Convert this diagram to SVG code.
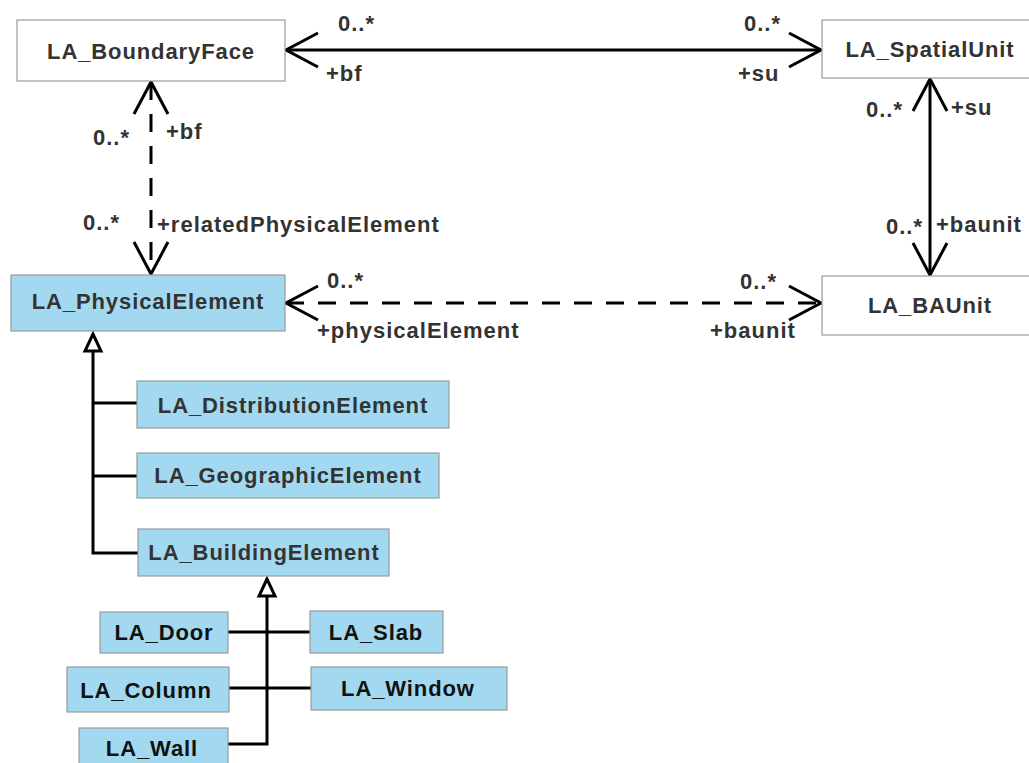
<svg xmlns="http://www.w3.org/2000/svg" width="1029" height="763" viewBox="0 0 1029 763">
<style>
.box{stroke:#9a9a9a;stroke-width:1.2}
.w{fill:#ffffff}
.b{fill:#a3d9f0}
.t{font-family:"Liberation Sans",Arial,sans-serif;font-weight:bold;font-size:22px;fill:#333333;text-anchor:middle;letter-spacing:0.9px}
.tk{fill:#111111}
.l{font-family:"Liberation Sans",Arial,sans-serif;font-weight:bold;font-size:22px;fill:#333333;letter-spacing:1px}
.c{fill:none;stroke:#000;stroke-width:3}
.d{stroke-dasharray:18 14}
</style>
<defs>
<marker id="open" markerUnits="userSpaceOnUse" viewBox="-36 -20 40 40" refX="0" refY="0" markerWidth="40" markerHeight="40" orient="auto-start-reverse">
<path d="M-32,-17 L0,0 L-32,17" fill="none" stroke="#000" stroke-width="3" stroke-dasharray="none"/>
</marker>
<marker id="gen" markerUnits="userSpaceOnUse" viewBox="-22 -12 26 24" refX="0" refY="0" markerWidth="26" markerHeight="24" orient="auto">
<path d="M0,0 L-17,-8 L-17,8 Z" fill="#fff" stroke="#000" stroke-width="3" stroke-linejoin="miter"/>
</marker>
</defs>
<rect width="1029" height="763" fill="#fff"/>
<g id="connectors">
<line class="c" x1="286" y1="50" x2="821" y2="50" marker-start="url(#open)" marker-end="url(#open)"/>
<line class="c d" x1="151" y1="82" x2="151" y2="274" marker-start="url(#open)" marker-end="url(#open)"/>
<line class="c d" x1="286" y1="303" x2="821" y2="303" marker-start="url(#open)" marker-end="url(#open)"/>
<line class="c" x1="930" y1="79" x2="930" y2="275" marker-start="url(#open)" marker-end="url(#open)"/>
<path class="c" d="M137,403 H93 V476 H137 M93,476 V553 H138 M93,553 V334" marker-end="url(#gen)"/>
<path class="c" d="M228,632 H310 M229,688 H311 M228,744 H267 V579" marker-end="url(#gen)"/>
<text class="l" x="338" y="31">0..*</text>
<text class="l" x="326" y="81">+bf</text>
<text class="l" x="744" y="31">0..*</text>
<text class="l" x="738" y="81">+su</text>
<text class="l" x="93" y="145">0..*</text>
<text class="l" x="166" y="139">+bf</text>
<text class="l" x="83" y="230">0..*</text>
<text class="l" x="157" y="232">+relatedPhysicalElement</text>
<text class="l" x="327" y="288">0..*</text>
<text class="l" x="317" y="338">+physicalElement</text>
<text class="l" x="740" y="289">0..*</text>
<text class="l" x="710" y="338">+baunit</text>
<text class="l" x="866" y="117">0..*</text>
<text class="l" x="951" y="115">+su</text>
<text class="l" x="886" y="234">0..*</text>
<text class="l" x="936" y="232">+baunit</text>
</g>
<g id="LA_BoundaryFace"><rect class="box w" x="17" y="20" width="268" height="61"/><text class="t" x="151" y="59">LA_BoundaryFace</text></g>
<g id="LA_SpatialUnit"><rect class="box w" x="822" y="20" width="216" height="58"/><text class="t" x="930" y="57">LA_SpatialUnit</text></g>
<g id="LA_PhysicalElement"><rect class="box b" x="11" y="275" width="274" height="56"/><text class="t" x="148" y="309">LA_PhysicalElement</text></g>
<g id="LA_BAUnit"><rect class="box w" x="822" y="276" width="216" height="59"/><text class="t" x="930" y="313">LA_BAUnit</text></g>
<g id="LA_DistributionElement"><rect class="box b" x="137" y="381" width="312" height="47"/><text class="t" x="293" y="413">LA_DistributionElement</text></g>
<g id="LA_GeographicElement"><rect class="box b" x="137" y="453" width="302" height="45"/><text class="t" x="288" y="483">LA_GeographicElement</text></g>
<g id="LA_BuildingElement"><rect class="box b" x="138" y="529" width="251" height="47"/><text class="t" x="264" y="560">LA_BuildingElement</text></g>
<g id="LA_Door"><rect class="box b" x="100" y="612" width="128" height="41"/><text class="t tk" x="164" y="640">LA_Door</text></g>
<g id="LA_Slab"><rect class="box b" x="310" y="611" width="133" height="42"/><text class="t tk" x="376" y="640">LA_Slab</text></g>
<g id="LA_Column"><rect class="box b" x="67" y="667" width="162" height="45"/><text class="t tk" x="146" y="698">LA_Column</text></g>
<g id="LA_Window"><rect class="box b" x="311" y="667" width="196" height="43"/><text class="t tk" x="408" y="696">LA_Window</text></g>
<g id="LA_Wall"><rect class="box b" x="79" y="728" width="149" height="45"/><text class="t tk" x="152" y="756">LA_Wall</text></g>
</svg>
